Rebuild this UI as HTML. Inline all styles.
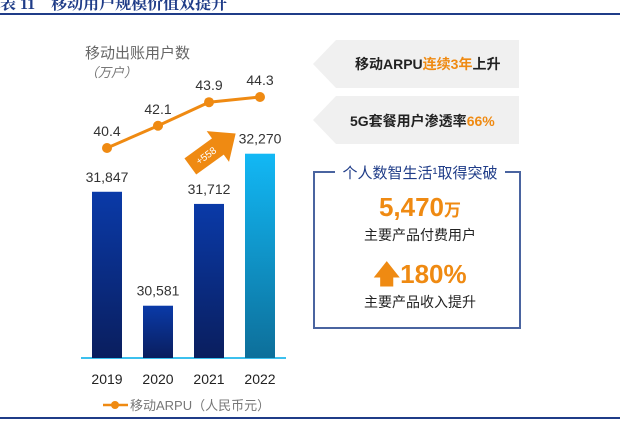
<!DOCTYPE html>
<html><head><meta charset="utf-8"><style>
body{margin:0;width:624px;height:425px;overflow:hidden;background:#fff;font-family:"Liberation Sans","Noto Sans CJK SC",sans-serif;position:relative}
.a{position:absolute;white-space:nowrap}
</style></head><body>
<div class="a" style="left:0;top:-9px;font-size:16px;color:#1f3c88;font-family:'Liberation Serif','Noto Serif CJK SC',serif;font-weight:bold">表 11　移动用户规模价值双提升</div>
<div class="a" style="left:0;top:13px;width:620px;height:2px;background:#1f3c88"></div>
<div class="a" style="left:0;top:417px;width:620px;height:2px;background:#1f3c88"></div>
<svg class="a" style="left:0;top:0" width="624" height="425" id="ch">
<defs>
<linearGradient id="gb" x1="0" y1="0" x2="0" y2="1"><stop offset="0" stop-color="#0a3aa8"/><stop offset="1" stop-color="#0a1e5e"/></linearGradient>
<linearGradient id="gc" x1="0" y1="0" x2="0" y2="1"><stop offset="0" stop-color="#12b8f5"/><stop offset="1" stop-color="#0d6f9a"/></linearGradient>
</defs>
<text x="85" y="58" font-size="15" fill="#666">移动出账用户数</text>
<text x="85" y="77" font-size="13" fill="#777" font-style="italic">（万户）</text>
<line x1="81" y1="358" x2="286" y2="358" stroke="#3cc0ee" stroke-width="2"/>
<g id="bars"></g><g id="line"></g>
<g transform="translate(213,150) rotate(-36)">
<polygon points="-28,-10 6,-10 6,-19 28,0 6,19 6,10 -28,10" fill="#ef8a12"/>
<text x="-9" y="4" font-size="10" fill="#fff" text-anchor="middle">+558</text>
</g>
<line x1="103" y1="405" x2="128" y2="405" stroke="#ef8a12" stroke-width="2.5"/>
<circle cx="115" cy="405" r="4" fill="#ef8a12"/>
<text x="130" y="410" font-size="13" fill="#777">移动ARPU（人民币元）</text>
</svg>
<svg class="a" style="left:0;top:0" width="624" height="425">
<polygon points="313,64 336,40 519,40 519,88 336,88" fill="#f0f0f0"/>
<polygon points="313,120 336,96 519,96 519,144 336,144" fill="#f0f0f0"/>
<text x="355" y="69" font-size="14" font-weight="bold" fill="#222">移动ARPU<tspan fill="#ef8a12">连续3年</tspan>上升</text>
<text x="350" y="126" font-size="14" font-weight="bold" fill="#222">5G套餐用户渗透率<tspan fill="#ef8a12">66%</tspan></text>
<path d="M335,172 H314 V328 H520 V172 H505" fill="none" stroke="#4a64a0" stroke-width="2"/>
<text x="420" y="178" font-size="15" fill="#1f3c88" text-anchor="middle">个人数智生活¹取得突破</text>
<text x="420" y="216" font-size="26" font-weight="bold" fill="#ef8a12" text-anchor="middle">5,470<tspan font-size="17">万</tspan></text>
<text x="420" y="240" font-size="14" fill="#222" text-anchor="middle">主要产品付费用户</text>
<text x="420" y="283" font-size="26" font-weight="bold" fill="#ef8a12" text-anchor="middle">🡅180%</text>
<text x="420" y="307" font-size="14" fill="#222" text-anchor="middle">主要产品收入提升</text>
</svg>
<script>
const years=["2019","2020","2021","2022"];
const users=[31847,30581,31712,32270];
const userLabels=["31,847","30,581","31,712","32,270"];
const arpu=[40.4,42.1,43.9,44.3];
const NS="http://www.w3.org/2000/svg";
const xC=i=>107+i*51;
const yB=v=>358-(v-30000)*0.09;
const yL=v=>148-(v-40.4)*13.08;
function mk(t,a,p){const e=document.createElementNS(NS,t);for(const k in a)e.setAttribute(k,a[k]);p.appendChild(e);return e;}
const bars=document.getElementById('bars'),line=document.getElementById('line');
users.forEach((v,i)=>{
 const r=mk('rect',{x:xC(i)-15,y:yB(v),width:30,height:358-yB(v),fill:i==3?'url(#gc)':'url(#gb)'},bars);
 
 
 const t=mk('text',{x:xC(i),y:yB(v)-10,'font-size':14,fill:'#333','text-anchor':'middle'},bars);t.textContent=userLabels[i];
 
 
 const y=mk('text',{x:xC(i),y:384,'font-size':14,fill:'#222','text-anchor':'middle'},bars);y.textContent=years[i];
 
 
});
const pl=mk('polyline',{points:arpu.map((v,i)=>xC(i)+','+yL(v)).join(' '),fill:'none',stroke:'#ef8a12','stroke-width':3},line);


arpu.forEach((v,i)=>{
 const c=mk('circle',{cx:xC(i),cy:yL(v),r:5,fill:'#ef8a12'},line);
 
 
 const t=mk('text',{x:xC(i),y:yL(v)-12,'font-size':14,fill:'#333','text-anchor':'middle'},line);t.textContent=v.toFixed(1);
 
 
});
</script>
</body></html>
